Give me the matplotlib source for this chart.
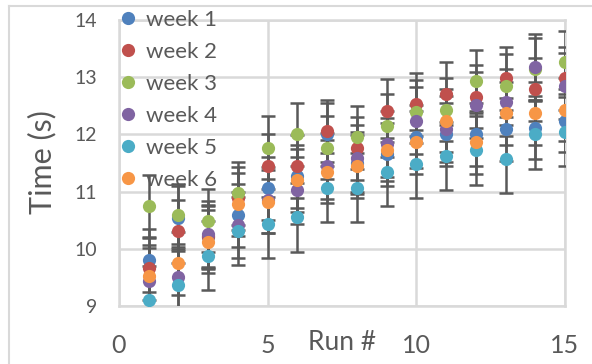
import matplotlib.pyplot as plt
from matplotlib.lines import Line2D
import numpy as np

plt.rcParams['font.family'] = ['Lato', 'DejaVu Sans']

# run numbers and mean times per week
runs = list(range(1, 16))
week1 = [9.80, 10.54, 10.20, 10.59, 11.06, 11.27, 12.00, 11.50, 11.65, 11.96, 12.00, 12.00, 12.09, 12.12, 12.24]
week2 = [9.66, 10.31, 10.22, 10.88, 11.45, 11.44, 12.06, 11.76, 12.41, 12.53, 12.71, 12.66, 12.98, 12.79, 12.98]
week3 = [10.74, 10.59, 10.49, 10.97, 11.77, 12.00, 11.77, 11.95, 12.15, 12.40, 12.43, 12.93, 12.85, 13.14, 13.26]
week4 = [9.43, 9.51, 10.26, 10.42, 10.85, 11.02, 11.45, 11.58, 11.83, 12.24, 12.09, 12.51, 12.56, 13.18, 12.85]
week5 = [9.10, 9.37, 9.88, 10.31, 10.44, 10.55, 11.07, 11.07, 11.34, 11.48, 11.62, 11.72, 11.57, 12.00, 12.05]
week6 = [9.52, 9.75, 10.12, 10.78, 10.82, 11.20, 11.35, 11.44, 11.73, 11.86, 12.24, 11.86, 12.37, 12.37, 12.43]

# error bar size per week
week_err = [0.55, 0.55, 0.55, 0.58, 0.60, 0.55]

labels = ['week 1', 'week 2', 'week 3', 'week 4', 'week 5', 'week 6']
colors = ['#4F81BD', '#C0504D', '#9BBB59', '#8064A2', '#4BACC6', '#F79646']
series = [week1, week2, week3, week4, week5, week6]

W, H = 592, 364
fig = plt.figure(figsize=(W / 100, H / 100), dpi=100)
ax = fig.add_axes([119 / W, 1 - 306 / H, (565 - 119) / W, (306 - 20) / H])

for vals, e in zip(series, week_err):
    ax.errorbar(runs, vals, yerr=e, fmt='none', ecolor='#595959',
                elinewidth=1.8, capsize=4.7, capthick=1.8, zorder=3)
for vals, c, lab in zip(series, colors, labels):
    ax.plot(runs, vals, 'o', ms=9.5, color=c, mew=0, label=lab, zorder=4)

ax.set_xlim(0, 15)
ax.set_ylim(9, 14)
ax.set_xticks([0, 5, 10, 15])
ax.set_yticks([9, 10, 11, 12, 13, 14])
ax.grid(color='#D9D9D9', lw=1.8)
ax.set_axisbelow(True)
for s in ax.spines.values():
    s.set_color('#D9D9D9')
    s.set_linewidth(1.8)
ax.tick_params(length=0, colors='#595959')
ax.tick_params(axis='x', labelsize=18, pad=20)
ax.tick_params(axis='y', labelsize=14, pad=16)

fig.legend(loc='upper left', bbox_to_anchor=(120 / W, 1 - 10 / H), frameon=False,
           fontsize=16, labelcolor='#595959', handlelength=0.75, handletextpad=0.4,
           labelspacing=0.54, borderpad=0, borderaxespad=0)

fig.text(342 / W, 1 - 342 / H, 'Run #', ha='center', va='center', fontsize=19, color='#595959')
fig.text(42 / W, 1 - 162 / H, 'Time (s)', rotation=90, ha='center', va='center',
         fontsize=22, color='#595959')

# chart area border (top and left edges)
fig.add_artist(Line2D([9 / W, 9 / W], [0, 1 - 6 / H], transform=fig.transFigure, color='#D9D9D9', lw=1.5))
fig.add_artist(Line2D([9 / W, 1], [1 - 6 / H, 1 - 6 / H], transform=fig.transFigure, color='#D9D9D9', lw=1.5))

fig.savefig('out.png', dpi=100)
